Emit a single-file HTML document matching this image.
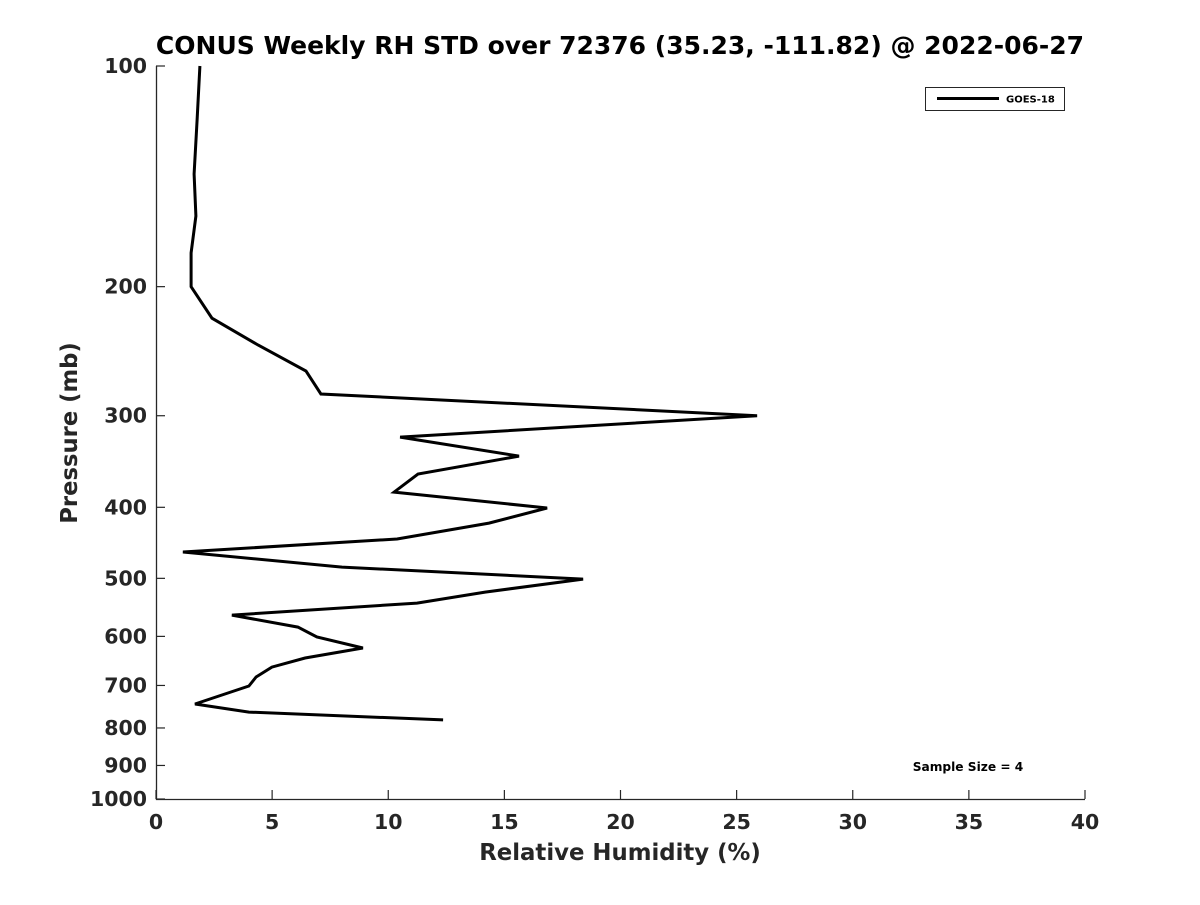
<!DOCTYPE html>
<html><head><meta charset="utf-8"><style>
body{margin:0;background:#fff;}
text{font-family:"DejaVu Sans","Liberation Sans",sans-serif;font-weight:bold;fill:#262626;}
</style></head><body>
<svg id="chart" width="1200" height="900" xmlns="http://www.w3.org/2000/svg">
<text x="620" y="54" text-anchor="middle" font-size="25" style="fill:#000">CONUS Weekly RH STD over 72376 (35.23, -111.82) @ 2022-06-27</text>
<g id="axes"></g>
<text x="620" y="860" text-anchor="middle" font-size="22.8">Relative Humidity (%)</text>
<text transform="translate(77,433) rotate(-90)" text-anchor="middle" font-size="22.7">Pressure (mb)</text>
<g>
<rect x="925.5" y="87.5" width="139" height="23" fill="#fff" stroke="#262626" stroke-width="1"/>
<line x1="937" y1="98.5" x2="999" y2="98.5" stroke="#000" stroke-width="3"/>
<text x="1006" y="102.5" font-size="10" style="fill:#000">GOES-18</text>
</g>
<text x="968" y="771" text-anchor="middle" font-size="12.2" style="fill:#000">Sample Size = 4</text>
</svg>
<script>
const xTicks=[0,5,10,15,20,25,30,35,40];
const yTicks=[100,200,300,400,500,600,700,800,900,1000];
const pressure=[100,118.5,140.4,160.2,179.9,200,220.8,240.2,260.7,280.2,300,320.8,340.6,360.3,381.3,400.9,420.3,441.9,460.3,482.6,501.2,522,540.4,561.2,582.7,601.2,622.3,642.2,660.7,681.7,701.3,742,761,780];
const rhStd=[1.89,1.77,1.64,1.72,1.51,1.51,2.41,4.39,6.46,7.10,25.88,10.51,15.63,11.28,10.25,16.84,14.34,10.38,1.16,8.01,18.39,14.17,11.24,3.27,6.11,6.93,8.91,6.42,4.99,4.31,4.00,1.68,4.00,12.36];
const L=156,R=1085,T=66,B=799;
const sx=v=>L+(v-0)/(40-0)*(R-L);
const sy=p=>T+(Math.log10(p)-2)/(3-2)*(B-T);
const NS="http://www.w3.org/2000/svg";
const svg=document.getElementById('chart');
const g=document.getElementById('axes');
function mk(tag,attrs,parent){const e=document.createElementNS(NS,tag);for(const k in attrs)e.setAttribute(k,attrs[k]);(parent||g).appendChild(e);return e;}
const ax=mk('path',{d:`M${L+0.5},${T}V${B+0.5}H${R}`,fill:'none',stroke:'#262626','stroke-width':1.3});


xTicks.forEach(v=>{const x=sx(v);
 const t=mk('line',{x1:x,y1:B,x2:x,y2:B-9,stroke:'#262626','stroke-width':1.2});
 
 
 const l=mk('text',{x:x,y:B+30,'text-anchor':'middle','font-size':20.5});l.textContent=v;
 
 
});
yTicks.forEach(p=>{const y=sy(p);
 const t=mk('line',{x1:L,y1:y,x2:L+9,y2:y,stroke:'#262626','stroke-width':1.2});
 
 
 const l=mk('text',{x:L-9,y:y+7,'text-anchor':'end','font-size':20.5});l.textContent=p;
 
 
});
const d=pressure.map((p,i)=>(i?'L':'M')+sx(rhStd[i]).toFixed(1)+','+sy(p).toFixed(1)).join('');
const line=mk('path',{d:d,fill:'none',stroke:'#000','stroke-width':3,'stroke-linejoin':'miter'},svg);


</script>
</body></html>
